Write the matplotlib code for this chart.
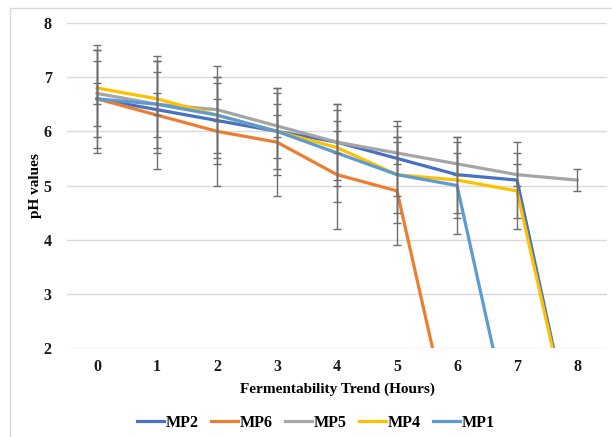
import numpy as np
import matplotlib
matplotlib.use("Agg")
import matplotlib.pyplot as plt
from matplotlib.patches import Rectangle

nan = np.nan

# fermentation hours and pH readings per sample
hours = [0, 1, 2, 3, 4, 5, 6, 7, 8]
mp2 = [6.6, 6.4, 6.2, 6.0, 5.8, 5.5, 5.2, 5.1, 0.0]
mp6 = [6.6, 6.3, 6.0, 5.8, 5.2, 4.9, 0.0, nan, nan]
mp5 = [6.7, 6.5, 6.4, 6.1, 5.8, 5.6, 5.4, 5.2, 5.1]
mp4 = [6.8, 6.6, 6.3, 6.0, 5.7, 5.2, 5.1, 4.9, 0.0]
mp1 = [6.6, 6.5, 6.3, 6.0, 5.6, 5.2, 5.0, 0.0, nan]

# error bar half-widths
mp2_err = [0.9, 0.7, 0.7, 0.7, 0.7, 0.7, 0.7, 0.7, 0.0]
mp6_err = [1.0, 1.0, 1.0, 1.0, 1.0, 1.0, 0.0, nan, nan]
mp5_err = [0.2, 0.2, 0.2, 0.2, 0.2, 0.2, 0.2, 0.2, 0.2]
mp4_err = [0.7, 0.7, 0.9, 0.8, 0.7, 0.9, 0.7, 0.7, 0.0]
mp1_err = [0.7, 0.9, 0.7, 0.5, 0.9, 0.7, 0.9, 0.0, nan]

names = ["MP2", "MP6", "MP5", "MP4", "MP1"]
series = [mp2, mp6, mp5, mp4, mp1]
errors = [mp2_err, mp6_err, mp5_err, mp4_err, mp1_err]
colors = ["#4472C4", "#ED7D31", "#A5A5A5", "#FFC000", "#5B9BD5"]

plt.rcParams["font.family"] = ["Liberation Serif", "DejaVu Serif"]
plt.rcParams["font.weight"] = "bold"

fig = plt.figure(figsize=(6.12, 4.37), dpi=100)
ax = fig.add_axes([67 / 612, 1 - 348 / 437, 540 / 612, 325 / 437])

# chart frame
fig.patches.append(Rectangle((10 / 612, -0.05), 1.0, 1 - 8 / 437 + 0.05,
                             transform=fig.transFigure, fill=False,
                             edgecolor="#d9d9d9", linewidth=1.0))

for name, vals, err, col in zip(names, series, errors, colors):
    ax.plot(hours, vals, color=col, lw=2.3, label=name,
            solid_joinstyle="round", zorder=3)

for vals, err in zip(series, errors):
    ax.errorbar(hours, vals, yerr=err, fmt="none", ecolor="#6e6e6e",
                elinewidth=1.0, capsize=3, capthick=1.0, zorder=4)

ax.set_xlim(-0.5, 8.5)
ax.set_ylim(2, 8)
ax.set_xticks(hours)
ax.set_yticks([2, 3, 4, 5, 6, 7, 8])
ax.grid(axis="y", color="#d9d9d9", lw=1.0)
ax.set_axisbelow(True)
for s in ax.spines.values():
    s.set_visible(False)
ax.tick_params(length=0, labelsize=11.5, pad=8)
ax.tick_params(axis="y", pad=11)
for lab in ax.get_xticklabels() + ax.get_yticklabels():
    lab.set_fontweight("bold")
    lab.set_color("#1a1a1a")

ax.set_xlabel("Fermentability Trend (Hours)", fontsize=11,
              fontweight="bold", labelpad=5)
ax.set_ylabel("pH values", fontsize=11, fontweight="bold", labelpad=1)

fig.legend(loc="center", bbox_to_anchor=(316 / 612, 1 - 423 / 437),
           ncol=5, frameon=False, handlelength=1.7,
           handletextpad=0.12, columnspacing=0.75,
           prop={"weight": "bold", "size": 11.5})

fig.savefig("out.png", dpi=100)
